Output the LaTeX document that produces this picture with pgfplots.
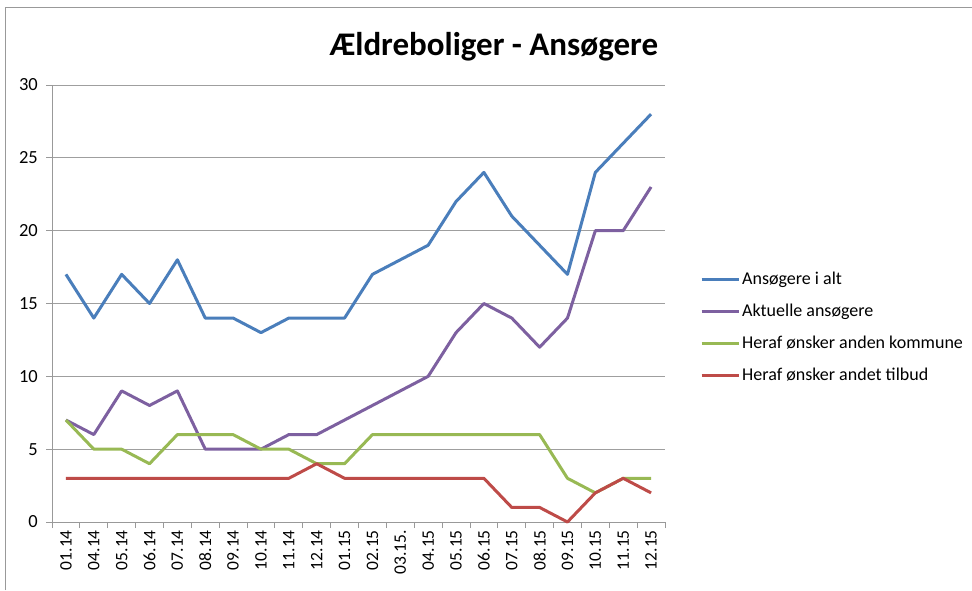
\documentclass[border=0pt]{standalone}
\usepackage{pgfplots}
\pgfplotsset{compat=1.18}
\usepackage{fontspec}
\setmainfont{Carlito}
\definecolor{cblue}{HTML}{4A7EBB}
\definecolor{cpurple}{HTML}{7D60A0}
\definecolor{cgreen}{HTML}{98B954}
\definecolor{cred}{HTML}{BE4B48}
\pgfplotstableread{
x total aktuelle kommune tilbud
0 17 7 7 3
1 14 6 5 3
2 17 9 5 3
3 15 8 4 3
4 18 9 6 3
5 14 5 6 3
6 14 5 6 3
7 13 5 5 3
8 14 6 5 3
9 14 6 4 4
10 14 7 4 3
11 17 8 6 3
12 18 9 6 3
13 19 10 6 3
14 22 13 6 3
15 24 15 6 3
16 21 14 6 1
17 19 12 6 1
18 17 14 3 0
19 24 20 2 2
20 26 20 3 3
21 28 23 3 2
}\datatable
\begin{document}
\begin{tikzpicture}[x=1pt,y=1pt]
\path[use as bounding box] (0,0) rectangle (972,590);
\draw[gray!80, line width=1pt] (5,0) -- (5,582) -- (972,582);
\node[font=\fontsize{33}{38}\selectfont\bfseries] at (494,543) {Ældreboliger - Ansøgere};
\begin{axis}[
  at={(52pt,68pt)}, anchor=south west,
  scale only axis, width=613pt, height=437pt,
  xmin=-0.5, xmax=21.5, ymin=0, ymax=30,
  ytick={0,5,...,30},
  ymajorgrids, grid style={gray!75, line width=0.9pt},
  axis lines=left,
  axis line style={gray!80, line width=0.9pt, -},
  xtick={0,...,21},
  xticklabels={01.14,04.14,05.14,06.14,07.14,08.14,09.14,10.14,11.14,12.14,01.15,02.15,03.15.,04.15,05.15,06.15,07.15,08.15,09.15,10.15,11.15,12.15},
  x tick label style={rotate=90, anchor=east, font=\fontsize{17.5}{20}\selectfont, inner sep=2pt},
  y tick label style={font=\fontsize{18.5}{20}\selectfont, inner sep=2pt, xshift=-6pt},
  /pgf/number format/assume math mode=true,
  major x tick style={draw=none},
  minor xtick={-0.5,0.5,...,21.5},
  minor tick length=6pt,
  major tick length=6pt,
  tick align=outside,
  tick style={gray!80, line width=0.9pt},
  legend style={at={(1.057,0.446)}, anchor=west, draw=none, fill=none,
    font=\fontsize{18}{20}\selectfont, row sep=14pt, inner sep=0pt},
  legend cell align=left,
  legend image code/.code={\draw[#1, line width=3pt] (0pt,0pt) -- (37pt,0pt);},
  every axis plot/.append style={line width=3pt, line join=round},
  clip=false,
]
\addplot[cblue, no marks] table[x=x, y=total] {\datatable};
\addlegendentry{Ansøgere i alt}
\addplot[cpurple, no marks] table[x=x, y=aktuelle] {\datatable};
\addlegendentry{Aktuelle ansøgere}
\addplot[cgreen, no marks] table[x=x, y=kommune] {\datatable};
\addlegendentry{Heraf ønsker anden kommune}
\addplot[cred, no marks] table[x=x, y=tilbud] {\datatable};
\addlegendentry{Heraf ønsker andet tilbud}
\end{axis}
\end{tikzpicture}
\end{document}
